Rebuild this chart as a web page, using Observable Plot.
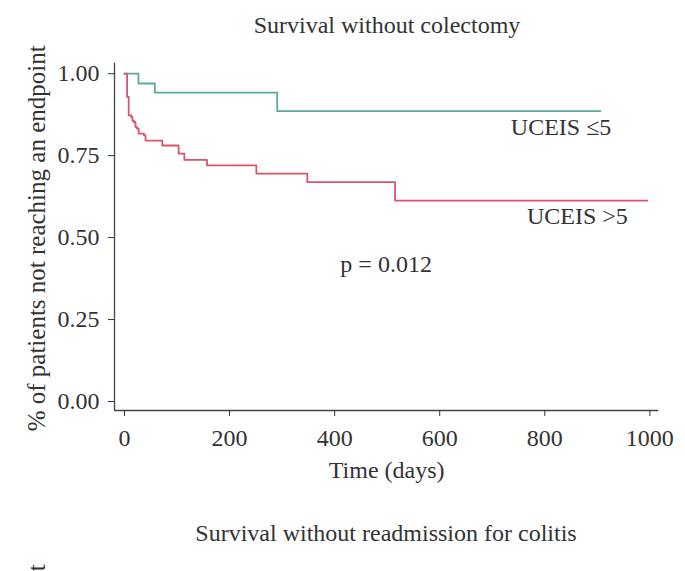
<!DOCTYPE html>
<html>
<head>
<meta charset="utf-8">
<script src="https://cdn.jsdelivr.net/npm/d3@7"></script>
<script src="https://cdn.jsdelivr.net/npm/@observablehq/plot@0.6"></script>
<style>
  html, body { margin: 0; padding: 0; background: #fff; }
  #wrap { position: relative; width: 685px; height: 571px; overflow: hidden; background: #fff; }
  #wrap svg { position: absolute; left: 0; top: 0; }
  .ttl { position: absolute; white-space: nowrap; transform: translateX(-50%);
         font-family: "Liberation Serif", serif; font-size: 24px; line-height: 24px; color: #333; }
</style>
</head>
<body>
<div id="wrap">
  <div class="ttl" id="t1" style="left:387px; top:13px;">Survival without colectomy</div>
  <div class="ttl" id="t2" style="left:386px; top:521px;">Survival without readmission for colitis</div>
</div>
<script>
// Series: UCEIS <=5 (teal)
const groups = ["UCEIS ≤5", "UCEIS >5"];
const lowTime = [0, 26.6, 57.7, 290.7, 906];
const lowSurv = [1.0, 0.970, 0.942, 0.886, 0.886];
// Series: UCEIS >5 (red)
const highTime = [0, 5, 8, 13, 15, 18, 21, 24, 27, 37, 40, 72, 103, 114, 157, 251, 348, 515, 995];
const highSurv = [1.0, 0.929, 0.873, 0.868, 0.857, 0.852, 0.837, 0.832, 0.817, 0.812, 0.796, 0.781, 0.756, 0.737, 0.720, 0.695, 0.669, 0.613, 0.613];
const xTicks = [0, 200, 400, 600, 800, 1000];
const yTicks = [0, 0.25, 0.5, 0.75, 1.0];
const pText = "p = 0.012";
const yTitle = "% of patients not reaching an endpoint";
const xTitle = "Time (days)";

const rows = [
  ...lowTime.map((t, i) => ({t, s: lowSurv[i], g: groups[0]})),
  ...highTime.map((t, i) => ({t, s: highSurv[i], g: groups[1]}))
];

const xDom = [-19, 1017];
const yDom = [-0.0275, 1.032];
const font = "Liberation Serif";

const chart = Plot.plot({
  width: 685, height: 571,
  marginLeft: 114, marginRight: 26.7, marginTop: 62.7, marginBottom: 161,
  style: {fontFamily: font, fontSize: "24px", color: "#333", background: "transparent"},
  x: {domain: xDom, label: null},
  y: {domain: yDom, label: null},
  color: {domain: groups, range: ["#5aab9c", "#d9546d"]},
  marks: [
    Plot.ruleY([yDom[0]], {stroke: "#444", strokeWidth: 1.3}),
    Plot.ruleX([xDom[0]], {stroke: "#444", strokeWidth: 1.3}),
    Plot.axisX({ticks: xTicks, tickSize: 6, tickPadding: 12, fontSize: 24, label: null, tickFormat: d3.format("d")}),
    Plot.axisY({ticks: yTicks, tickSize: 6, tickPadding: 9, fontSize: 24, label: null, tickFormat: d3.format(".2f")}),
    Plot.line(rows, {x: "t", y: "s", z: "g", stroke: "g", curve: "step-after", strokeWidth: 1.8}),
    Plot.text([groups[0]], {x: 831, y: 0.835, text: d => d, fontSize: 24, fill: "#333"}),
    Plot.text([groups[1]], {x: 862, y: 0.566, text: d => d, fontSize: 24, fill: "#333"}),
    Plot.text([pText], {x: 498, y: 0.418, text: d => d, fontSize: 24, fill: "#333"}),
    Plot.text([xTitle], {frameAnchor: "bottom", textAnchor: "middle", lineAnchor: "middle", dy: 60, text: d => d, fontSize: 24, fill: "#333"}),
    Plot.text([yTitle], {frameAnchor: "left", textAnchor: "middle", lineAnchor: "middle", dx: -78, dy: 1.5, rotate: -90, text: d => d, fontSize: 25, fill: "#333"}),
    Plot.text([yTitle], {frameAnchor: "left", textAnchor: "end", lineAnchor: "middle", dx: -78, dy: 327.5, rotate: -90, text: d => d, fontSize: 25, fill: "#333"})
  ]
});
document.getElementById("wrap").prepend(chart);
</script>
</body>
</html>
